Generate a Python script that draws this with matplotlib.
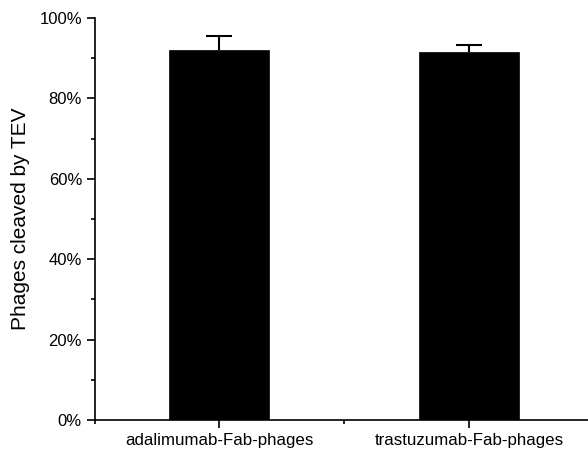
import numpy as np
import matplotlib.pyplot as plt
from matplotlib.ticker import MultipleLocator, FuncFormatter

categories = ['adalimumab-Fab-phages', 'trastuzumab-Fab-phages']
values = [92.0, 91.5]
errors = [3.5, 1.9]

plt.rcParams['font.family'] = ['Liberation Sans', 'DejaVu Sans']

fig = plt.figure(figsize=(5.88, 4.57), dpi=100)
ax = fig.add_axes([94.5 / 588, 37 / 457, (594 - 94.5) / 588, (420 - 18) / 457])

x = np.arange(1, len(categories) + 1)
ax.bar(x, values, width=0.4, color='black', edgecolor='black', linewidth=0.5, zorder=3)
eb = ax.errorbar(x, values, yerr=[np.zeros(len(errors)), errors], fmt='none',
                 ecolor='black', elinewidth=1.5, capsize=9.5, capthick=1.5, zorder=2)
# only the upper cap is wanted
eb[1][0].set_visible(False)

ax.set_xlim(0.5, 2.5)
ax.set_ylim(0, 100)
ax.set_xticks(x)
ax.set_xticklabels(categories, fontsize=12.2)
ax.xaxis.set_minor_locator(MultipleLocator(0.5))
ax.yaxis.set_major_locator(MultipleLocator(20))
ax.yaxis.set_minor_locator(MultipleLocator(10))
ax.yaxis.set_major_formatter(FuncFormatter(lambda v, p: f'{v:.0f}%'))
ax.tick_params(axis='y', labelsize=12)
ax.tick_params(which='major', direction='out', length=5.5, width=1.2)
ax.tick_params(which='minor', direction='out', length=3, width=1.2)
ax.set_ylabel('Phages cleaved by TEV', fontsize=15, labelpad=7)

for s in ['top', 'right']:
    ax.spines[s].set_visible(False)
for s in ['left', 'bottom']:
    ax.spines[s].set_linewidth(1.2)

fig.savefig('out.png', dpi=100)
